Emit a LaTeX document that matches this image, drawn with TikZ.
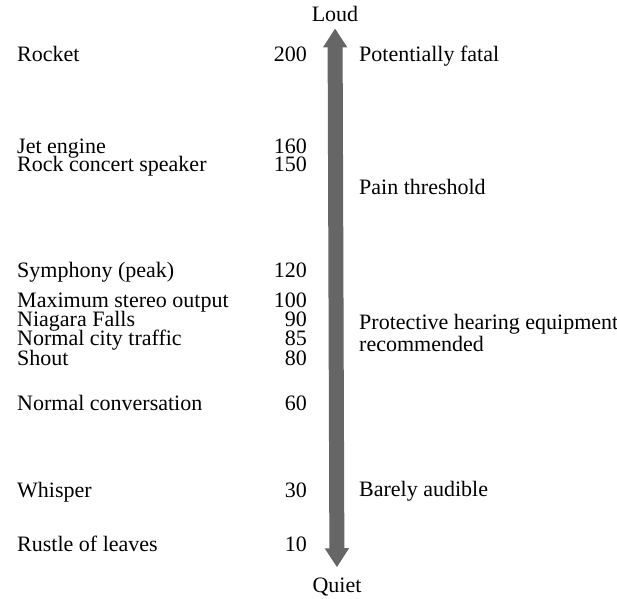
\documentclass[tikz,border=0pt]{standalone}
\usepackage{fontspec}
\setmainfont{Liberation Serif}
\usetikzlibrary{arrows.meta}
\setlength{\lineskiplimit}{-30pt}

\begin{document}
\begin{tikzpicture}[
  x=1pt, y=-1pt, inner sep=0pt,
  font=\fontsize{22}{19.3}\selectfont,
  src/.style={anchor=base west, align=left},
  db/.style={anchor=base east, align=right},
  note/.style={anchor=base west, align=left},
  tag/.style={anchor=base},
  arr/.style={line width=15pt, draw=black!60,
    {Triangle[width=23pt,length=19pt]}-{Triangle[width=23pt,length=19pt]}},
]
\useasboundingbox (0,0) rectangle (617,598);

% loudness scale
\node[tag] (loud) at (335,21) {Loud};
\node[tag] (quiet) at (337,592) {Quiet};
\draw[arr, shorten <=10pt, shorten >=7pt] (quiet) -- (loud);

% sources (stacked groups sit on their last line)
\node[src] (rocket) at (17,61) {Rocket};
\node[src, font=\fontsize{22}{18}\selectfont] (jet) at (17,171)
  {Jet engine\\Rock concert speaker};
\node[src] (symph) at (17,277) {Symphony (peak)};
\node[src] (stereo) at (17,365)
  {Maximum stereo output\\Niagara Falls\\Normal city traffic\\Shout};
\node[src] (conv) at (17,410) {Normal conversation};
\node[src] (whisper) at (17,497) {Whisper};
\node[src] (leaves) at (17,551) {Rustle of leaves};

% decibels
\node[db] (d200) at (307,61) {200};
\node[db, font=\fontsize{22}{18}\selectfont] (d160) at (307,171) {160\\150};
\node[db] (d120) at (307,277) {120};
\node[db] (d100) at (307,365) {100\\90\\85\\80};
\node[db] (d60) at (307,410) {60};
\node[db] (d30) at (307,497) {30};
\node[db] (d10) at (307,551) {10};

% effects
\node[note] (fatal) at (359,61) {Potentially fatal};
\node[note] (pain) at (359,194) {Pain threshold};
\node[note, font=\fontsize{22}{22}\selectfont] (protect) at (359,351)
  {Protective hearing equipment\\recommended};
\node[note] (audible) at (359,496) {Barely audible};
\end{tikzpicture}
\end{document}
